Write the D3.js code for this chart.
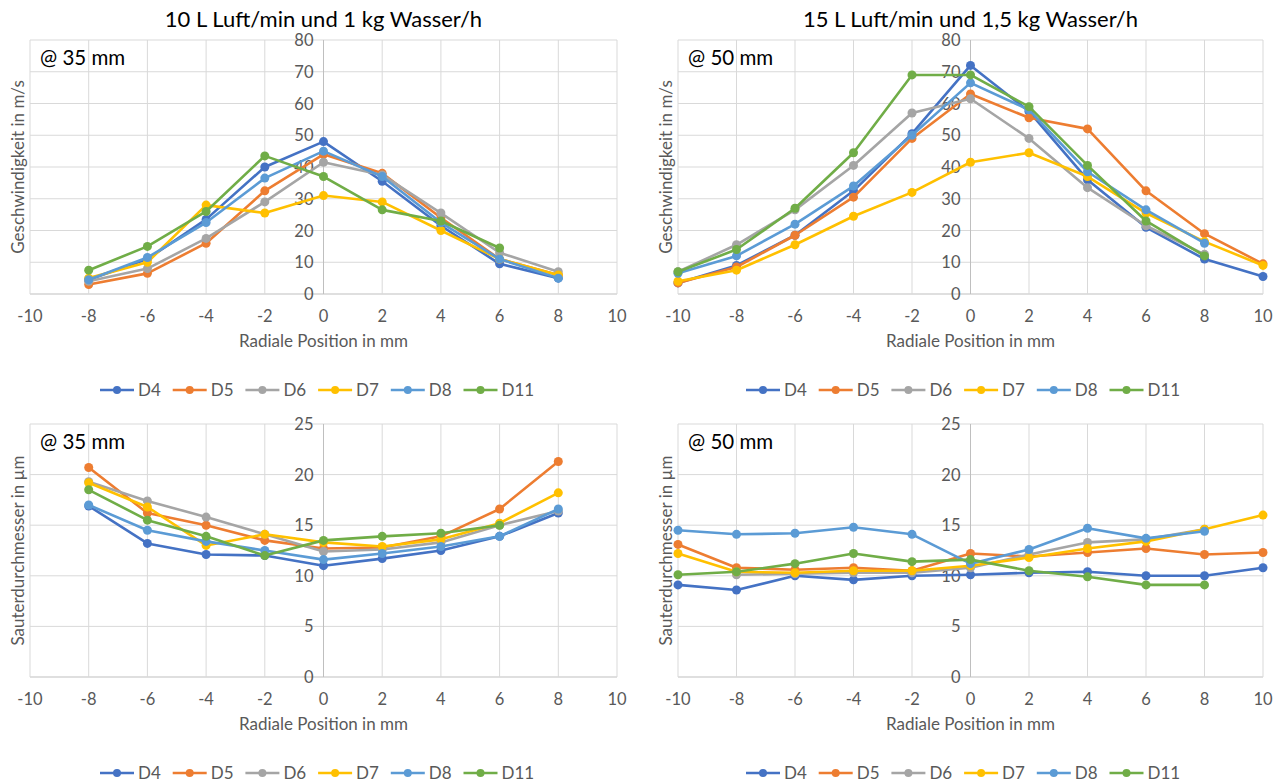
<!DOCTYPE html>
<html>
<head>
<meta charset="utf-8">
<script src="https://cdn.jsdelivr.net/npm/d3@7"></script>
<style>
  body { margin: 0; background: #fff; }
  svg { font-family: Lato, "Open Sans", sans-serif; }
</style>
</head>
<body>
<div id="chart"></div>
<script>
// series names + colours (Excel office palette)
var seriesNames = ["D4", "D5", "D6", "D7", "D8", "D11"];
var seriesColors = ["#4472C4", "#ED7D31", "#A5A5A5", "#FFC000", "#5B9BD5", "#70AD47"];

var xTicks = [-10, -8, -6, -4, -2, 0, 2, 4, 6, 8, 10];
var posSmall = [-8, -6, -4, -2, 0, 2, 4, 6, 8];
var posWide = [-10, -8, -6, -4, -2, 0, 2, 4, 6, 8, 10];

// Geschwindigkeit, 10 L Luft/min, @ 35 mm
var v35 = [
  [4.5, 11, 23.5, 40, 48, 35.5, 21.5, 9.5, 5],
  [3, 6.5, 16, 32.5, 44, 38, 24, 11, 6],
  [4, 8, 17.5, 29, 41.5, 37.5, 25.5, 13, 7],
  [5, 10, 28, 25.5, 31, 29, 20, 11, 6],
  [4.5, 11.5, 22.5, 36.5, 45, 37, 22.5, 11, 5],
  [7.5, 15, 26, 43.5, 37, 26.5, 23, 14.5, null]
];
// Geschwindigkeit, 15 L Luft/min, @ 50 mm
var v50 = [
  [3.5, 9, 18.5, 32.5, 50.5, 72, 57.5, 36, 21, 11, 5.5],
  [3.5, 8.5, 18.5, 30.5, 49, 63, 55.5, 52, 32.5, 19, 9.5],
  [7, 15.5, 26.5, 40.5, 57, 61.5, 49, 33.5, 21.5, 12.5, null],
  [4, 7.5, 15.5, 24.5, 32, 41.5, 44.5, 37, 25.5, 16.5, 9],
  [6.5, 12, 22, 34, 50, 66.5, 58, 38.5, 26.5, 16, null],
  [7, 14, 27, 44.5, 69, 69, 59, 40.5, 23, 12, null]
];
// Sauterdurchmesser @ 35 mm
var d35 = [
  [16.9, 13.2, 12.1, 12, 11, 11.7, 12.5, 13.9, 16.2],
  [20.7, 16.2, 15, 13.5, 12.7, 12.8, 13.9, 16.6, 21.3],
  [19.3, 17.4, 15.8, 14.1, 12.4, 12.6, 13.3, 15, 16.4],
  [19.2, 16.8, 13, 14.1, 13.3, 12.9, 13.6, 15.2, 18.2],
  [17, 14.5, 13.4, 12.5, 11.6, 12.2, 12.9, 13.9, 16.6],
  [18.5, 15.5, 13.9, 12, 13.5, 13.9, 14.2, 15, null]
];
// Sauterdurchmesser @ 50 mm
var d50 = [
  [9.1, 8.6, 10, 9.6, 10, 10.1, 10.3, 10.4, 10, 10, 10.8],
  [13.1, 10.8, 10.6, 10.8, 10.5, 12.2, 11.9, 12.3, 12.7, 12.1, 12.3],
  [null, 10.1, 10.2, 10.3, 10.3, 10.8, 12.1, 13.3, 13.6, 14.6, null],
  [12.2, 10.4, 10.3, 10.5, 10.5, 11, 11.8, 12.7, 13.4, 14.6, 16],
  [14.5, 14.1, 14.2, 14.8, 14.1, 11.2, 12.6, 14.7, 13.7, 14.4, null],
  [10.1, 10.4, 11.2, 12.2, 11.4, 11.6, 10.5, 9.9, 9.1, 9.1, null]
];

var vTicks = [0, 10, 20, 30, 40, 50, 60, 70, 80];
var dTicks = [0, 5, 10, 15, 20, 25];

var panels = [
  {title: "10 L Luft/min und 1 kg Wasser/h", note: "@ 35 mm", yTitle: "Geschwindigkeit in m/s",
   xs: posSmall, data: v35, yMax: 80, yTicks: vTicks, left: 30, right: 617, top: 40, bottom: 294, legendX: 100},
  {title: "15 L Luft/min und 1,5 kg Wasser/h", note: "@ 50 mm", yTitle: "Geschwindigkeit in m/s",
   xs: posWide, data: v50, yMax: 80, yTicks: vTicks, left: 678, right: 1263, top: 40, bottom: 294, legendX: 746},
  {title: null, note: "@ 35 mm", yTitle: "Sauterdurchmesser in µm",
   xs: posSmall, data: d35, yMax: 25, yTicks: dTicks, left: 30, right: 617, top: 424, bottom: 677, legendX: 100},
  {title: null, note: "@ 50 mm", yTitle: "Sauterdurchmesser in µm",
   xs: posWide, data: d50, yMax: 25, yTicks: dTicks, left: 678, right: 1263, top: 424, bottom: 677, legendX: 746}
];

var svg = d3.select("#chart").append("svg")
  .attr("width", 1286)
  .attr("height", 783);

var gridColor = "#d9d9d9",
    axisColor = "#bfbfbf",
    textColor = "#595959";

panels.forEach(function(p) {
  var x = d3.scaleLinear().domain([-10, 10]).range([p.left, p.right]);
  var y = d3.scaleLinear().domain([0, p.yMax]).range([p.bottom, p.top]);
  var g = svg.append("g");

  // gridlines
  g.selectAll(".hgrid").data(p.yTicks).enter().append("line")
    .attr("x1", p.left).attr("x2", p.right)
    .attr("y1", function(d) { return y(d); }).attr("y2", function(d) { return y(d); })
    .attr("stroke", function(d) { return d === 0 ? axisColor : gridColor; })
    .attr("stroke-width", 1);
  g.selectAll(".vgrid").data(xTicks).enter().append("line")
    .attr("y1", p.top).attr("y2", p.bottom)
    .attr("x1", function(d) { return x(d); }).attr("x2", function(d) { return x(d); })
    .attr("stroke", function(d) { return d === 0 ? axisColor : gridColor; })
    .attr("stroke-width", 1);

  // y tick labels, next to the vertical axis at x = 0
  g.selectAll(".ylab").data(p.yTicks).enter().append("text")
    .attr("x", x(0) - 10)
    .attr("y", function(d) { return y(d) + 6; })
    .attr("text-anchor", "end")
    .attr("font-size", 16.5)
    .attr("fill", textColor)
    .text(function(d) { return d; });

  // x tick labels
  g.selectAll(".xlab").data(xTicks).enter().append("text")
    .attr("x", function(d) { return x(d); })
    .attr("y", p.bottom + 28)
    .attr("text-anchor", "middle")
    .attr("font-size", 16.5)
    .attr("fill", textColor)
    .text(function(d) { return d; });

  g.append("text")
    .attr("x", x(0))
    .attr("y", p.bottom + 53)
    .attr("text-anchor", "middle")
    .attr("font-size", 17)
    .attr("fill", textColor)
    .text("Radiale Position in mm");

  g.append("text")
    .attr("transform", "translate(" + (p.left - 12) + "," + ((p.top + p.bottom) / 2) + ") rotate(-90)")
    .attr("dy", "0.35em")
    .attr("text-anchor", "middle")
    .attr("font-size", 17)
    .attr("fill", textColor)
    .text(p.yTitle);

  if (p.title) {
    g.append("text")
      .attr("x", x(0))
      .attr("y", 27)
      .attr("text-anchor", "middle")
      .attr("font-size", 22)
      .attr("fill", "#000")
      .text(p.title);
  }

  g.append("text")
    .attr("x", p.left + 10)
    .attr("y", p.top + 25)
    .attr("font-size", 20.5)
    .attr("fill", "#000")
    .text(p.note);

  var line = d3.line()
    .defined(function(d) { return d[1] != null; })
    .x(function(d) { return x(d[0]); })
    .y(function(d) { return y(d[1]); });

  p.data.forEach(function(vals, i) {
    var pts = p.xs.map(function(xv, j) { return [xv, vals[j]]; });
    var s = g.append("g");
    s.append("path")
      .datum(pts)
      .attr("d", line)
      .attr("fill", "none")
      .attr("stroke", seriesColors[i])
      .attr("stroke-width", 2.6)
      .attr("stroke-linejoin", "round");
    s.selectAll("circle")
      .data(pts.filter(function(d) { return d[1] != null; }))
      .enter().append("circle")
      .attr("cx", function(d) { return x(d[0]); })
      .attr("cy", function(d) { return y(d[1]); })
      .attr("r", 4.5)
      .attr("fill", seriesColors[i]);
  });

  // legend
  var ly = p.bottom + 96;
  var leg = g.selectAll(".leg").data(seriesNames).enter().append("g")
    .attr("transform", function(d, i) { return "translate(" + (p.legendX + i * 72.7) + "," + ly + ")"; });
  leg.append("line")
    .attr("x1", 0).attr("x2", 34).attr("y1", 0).attr("y2", 0)
    .attr("stroke", function(d, i) { return seriesColors[i]; })
    .attr("stroke-width", 2.6);
  leg.append("circle")
    .attr("cx", 17).attr("cy", 0).attr("r", 4)
    .attr("fill", function(d, i) { return seriesColors[i]; });
  leg.append("text")
    .attr("x", 38).attr("y", 6)
    .attr("font-size", 17)
    .attr("fill", textColor)
    .text(function(d) { return d; });
});
</script>
</body>
</html>
